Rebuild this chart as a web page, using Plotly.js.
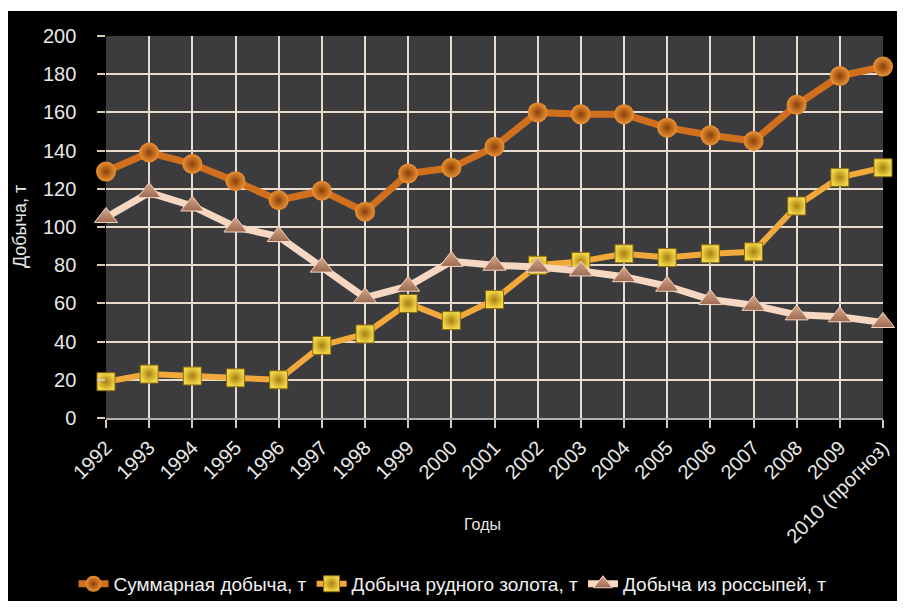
<!DOCTYPE html>
<html><head><meta charset="utf-8">
<script src="https://cdn.plot.ly/plotly-3.0.1.min.js"></script>
<style>
html,body{margin:0;padding:0;background:#fff;}
#chart{position:absolute;left:8px;top:11px;width:889px;height:590px;}
</style></head>
<body><div id="chart"></div>
<script>
const years = ["1992","1993","1994","1995","1996","1997","1998","1999","2000","2001","2002","2003","2004","2005","2006","2007","2008","2009","2010 (прогноз)"];
const totalOutput = [129,139,133,124,114,119,108,128,131,142,160,159,159,152,148,145,164,179,184];
const oreGold = [19,23,22,21,20,38,44,60,51,62,80,82,86,84,86,87,111,126,131];
const placerGold = [105,118,111,100,95,79,63,69,82,80,79,77,74,69,62,59,54,53,50];
const seriesNames = ["Суммарная добыча, т","Добыча рудного золота, т","Добыча из россыпей, т"];
const xTitle = "Годы";
const yTitle = "Добыча, т";

const traces = [
  {x: years, y: totalOutput, name: seriesNames[0], type:'scatter', mode:'lines+markers', cliponaxis:false,
   line:{color:'#d0701e', width:7},
   marker:{symbol:'circle', size:20, color:'#ec9232', gradient:{type:'radial', color:'#8a3f0a'}, line:{width:0}}},
  {x: years, y: oreGold, name: seriesNames[1], type:'scatter', mode:'lines+markers', cliponaxis:false,
   line:{color:'#f2a93b', width:6},
   marker:{symbol:'square', size:18, color:'#f2d848', gradient:{type:'radial', color:'#a87e12'}, line:{width:1, color:'#8a6a10'}}},
  {x: years, y: placerGold, name: seriesNames[2], type:'scatter', mode:'lines+markers', cliponaxis:false,
   line:{color:'#f6d8c2', width:7},
   marker:{symbol:'triangle-up', size:20, color:'#d9a88a', gradient:{type:'vertical', color:'#9c6a50'}, line:{width:1, color:'#f4d6c4'}}}
];

const layout = {
  width: 889, height: 590,
  paper_bgcolor:'#000', plot_bgcolor:'#3c3c3e',
  margin:{l:98, r:14, t:25, b:183},
  font:{family:'Liberation Sans, Arial, sans-serif', color:'#e8e8e8', size:15},
  showlegend:true,
  legend:{orientation:'h', x:0.5, xanchor:'center', xref:'container', yref:'container', y:0.029, yanchor:'middle',
          font:{size:19, color:'#f0f0f0'}, itemwidth:30},
  xaxis:{type:'category', range:[0,18], tickangle:-45, showgrid:true, gridcolor:'#e9dccf', gridwidth:2,
         ticks:'outside', ticklen:8, tickcolor:'#d8c8b8', tickwidth:2, zeroline:false, automargin:false,
         showline:true, linecolor:'#b0b0b0', linewidth:2, tickfont:{size:20}},
  yaxis:{range:[0,200], dtick:20, showgrid:true, gridcolor:'#e9dccf', gridwidth:2, automargin:false,
         ticks:'outside', ticklen:8, tickcolor:'#d8c8b8', tickwidth:2, zeroline:false, ticksuffix:'\u00a0\u00a0\u00a0',
         tickfont:{size:20}},
  annotations:[
    {text:xTitle, xref:'paper', yref:'paper', x:0.485, y:-0.305, showarrow:false, font:{size:16, color:'#e8e8e8'}},
    {text:yTitle, xref:'paper', yref:'paper', x:-0.126, y:0.5, textangle:-90, showarrow:false, font:{size:18, color:'#e8e8e8'}}
  ]
};
Plotly.newPlot('chart', traces, layout, {displayModeBar:false, staticPlot:true});
</script></body></html>
